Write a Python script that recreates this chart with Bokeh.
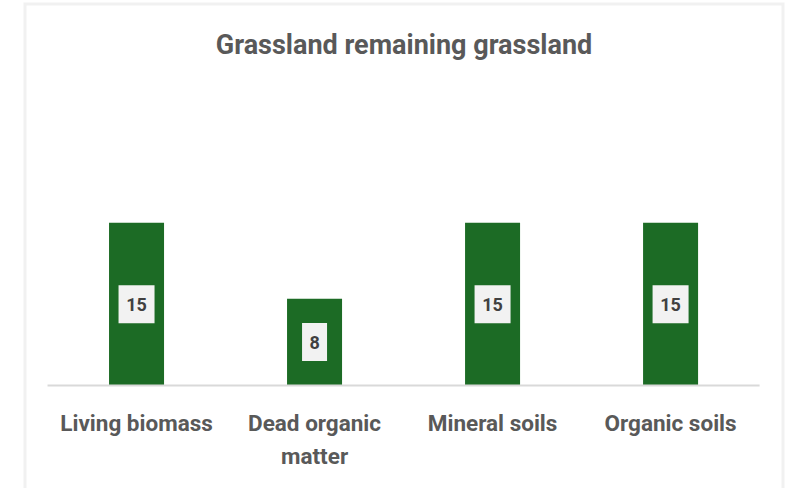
from bokeh.plotting import figure
from bokeh.models import Range1d, BoxAnnotation
from bokeh.core.properties import value
from bokeh.embed import file_html
from bokeh.resources import INLINE

# ---- data ----
categories = ["Living biomass", "Dead organic matter", "Mineral soils", "Organic soils"]
values = [15, 8, 15, 15]
tick_labels = ["Living biomass", "Dead organic\nmatter", "Mineral soils", "Organic soils"]
title_text = "Grassland remaining grassland"

FONT = "Roboto"
GRAY = "#595959"
GREEN = "#1c6b25"
BORDER = "#d9d9d9"

xs = list(range(len(categories)))

p = figure(
    width=790, height=488,
    x_range=Range1d(-0.635, 3.64),
    y_range=Range1d(-9.49, 35.3),
    output_backend="svg", toolbar_location=None,
    min_border_left=23, min_border_right=6, min_border_top=2, min_border_bottom=0,
)
p.background_fill_color = "white"
p.border_fill_color = "white"
p.outline_line_color = None
p.grid.visible = False
p.axis.visible = False

# chart-area border (bottom edge falls outside the view)
p.add_layout(BoxAnnotation(left=p.x_range.start, right=p.x_range.end,
                           top=p.y_range.end, bottom=p.y_range.start - 5,
                           fill_color=None, line_color="#d2d2d2", line_width=6))

# title
p.text(x=[(p.x_range.start + p.x_range.end) / 2], y=[p.y_range.end], text=[title_text],
       y_offset=42, text_align="center", text_baseline="alphabetic",
       text_font=value(FONT), text_font_style="bold", text_font_size="27px",
       text_color=GRAY)

# bars
p.vbar(x=xs, top=values, width=0.309, color=GREEN, line_color=None)

# category axis line
p.segment(x0=[xs[0] - 0.5], x1=[xs[-1] + 0.5], y0=[0], y1=[0],
          line_color=BORDER, line_width=2)

# category labels (one text item per line)
lines = [t.split("\n") for t in tick_labels]
nlines = max(len(l) for l in lines)
for k in range(nlines):
    txt = [l[k] if k < len(l) else "" for l in lines]
    p.text(x=xs, y=[0] * len(xs), text=txt, y_offset=37 + 33 * k,
           text_align="center", text_baseline="alphabetic",
           text_font=value(FONT), text_font_style="bold", text_font_size="22.5px",
           text_color=GRAY)

# value labels: light boxes centred in bars
mid = [v / 2 for v in values]
box_w = [14 + 11 * len(str(v)) for v in values]
p.rect(x=xs, y=mid, width=box_w, height=38, width_units="screen",
       height_units="screen", fill_color="#f2f2f2", line_color=None)
p.text(x=xs, y=mid, text=[str(v) for v in values], text_align="center",
       text_baseline="middle", text_font=value(FONT), text_font_style="bold",
       text_font_size="18px", text_color="#404040")

open("out.html", "w").write(file_html(p, INLINE))
